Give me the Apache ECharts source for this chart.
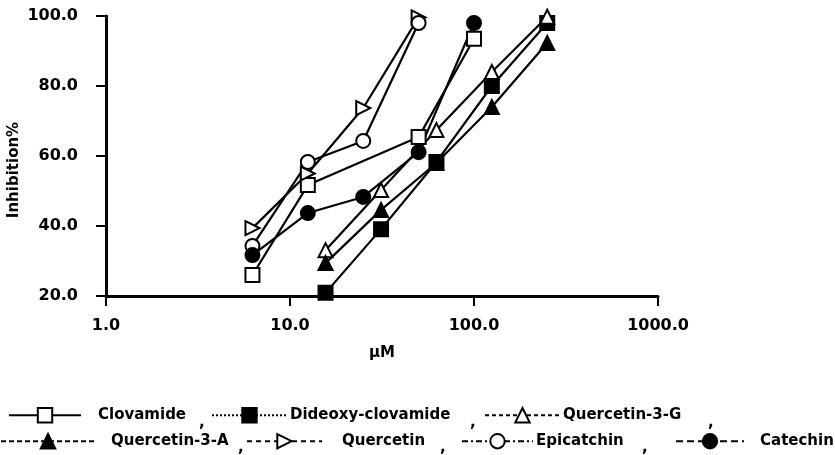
<!DOCTYPE html>
<html>
<head>
<meta charset="utf-8">
<script src="https://cdn.jsdelivr.net/npm/echarts@6/dist/echarts.min.js"></script>
<style>
  html, body { margin: 0; padding: 0; background: #fff; }
  #chart { width: 835px; height: 455px; }
</style>
</head>
<body>
<div id="chart"></div>
<script>
// Concentrations (µM) used in the two dilution series
const concLow = [6.25, 12.5, 25, 50, 100];
const concHigh = [15.6, 31.25, 62.5, 125, 250];
const concClovamide = [6.25, 12.5, 50, 100];
const concShort = [6.25, 12.5, 25, 50];

// Inhibition (%) per compound
const clovamide = [26.0, 51.7, 65.4, 93.5];
const dideoxyClovamide = [20.9, 39.1, 58.3, 80.0, 98.0];
const quercetin3G = [33.1, 50.3, 67.4, 84.0, 99.8];
const quercetin3A = [29.4, 44.6, 58.0, 74.0, 92.3];
const quercetin = [39.4, 55.0, 73.7, 99.6];
const epicatchin = [34.3, 58.3, 64.3, 98.0];
const catechin = [31.7, 43.7, 48.3, 61.1, 98.0];

const xTicks = [1, 10, 100, 1000];
const yTicks = [20, 40, 60, 80, 100];

const FONT = 'DejaVu Sans';
const pair = (xs, ys) => xs.map((x, i) => [x, ys[i]]);

function lineSeries(name, xs, ys, symbol, filled, extra) {
  return Object.assign({
    name: name,
    type: 'line',
    data: pair(xs, ys),
    symbol: symbol,
    symbolSize: 14,
    showAllSymbol: true,
    lineStyle: { color: '#000', width: 2.2 },
    itemStyle: { color: filled ? '#000' : '#fff', borderColor: '#000', borderWidth: 2 },
    emphasis: { disabled: true },
    animation: false
  }, extra || {});
}

const series = [
  lineSeries('Clovamide', concClovamide, clovamide, 'rect', false),
  lineSeries('Dideoxy-clovamide', concHigh, dideoxyClovamide, 'rect', true),
  lineSeries('Quercetin-3-G', concHigh, quercetin3G, 'triangle', false),
  lineSeries('Quercetin-3-A', concHigh, quercetin3A, 'triangle', true),
  lineSeries('Quercetin', concShort, quercetin, 'triangle', false, { symbolRotate: -90 }),
  lineSeries('Epicatchin', concShort, epicatchin, 'circle', false),
  lineSeries('Catechin', concLow, catechin, 'circle', true)
];

// One legend block per entry, laid out in two rows
const legendSpec = [
  { name: 'Clovamide', left: 3, top: 402, w: 72, gap: 17, dash: 'solid' },
  { name: 'Dideoxy-clovamide', left: 206, top: 402, w: 75, gap: 3, dash: 'dotted' },
  { name: 'Quercetin-3-G', left: 479, top: 402, w: 75, gap: 3, dash: [4, 3] },
  { name: 'Quercetin-3-A', left: -5, top: 428, w: 94, gap: 16, dash: [5, 3] },
  { name: 'Quercetin', left: 241, top: 428, w: 75, gap: 20, dash: [5, 4] },
  { name: 'Epicatchin', left: 456, top: 428, w: 71, gap: 3, dash: [6, 3, 2, 3] },
  { name: 'Catechin', left: 670, top: 428, w: 68, gap: 16, dash: [7, 4] }
];

const legends = legendSpec.map(s => ({
  left: s.left,
  top: s.top,
  orient: 'horizontal',
  itemWidth: s.w,
  itemHeight: 18,
  selectedMode: false,
  data: [{ name: s.name, lineStyle: { type: s.dash, width: 2, color: '#000' } }],
  textStyle: { fontFamily: FONT, fontWeight: 'bold', fontSize: 15, color: '#000', padding: [0, 0, 0, s.gap - 5] }
}));

const commas = [[199, 416], [470, 416], [708, 416], [238, 441], [440, 441], [642, 441]];

const chart = echarts.init(document.getElementById('chart'), null, { renderer: 'canvas' });
chart.setOption({
  backgroundColor: '#fff',
  animation: false,
  grid: { left: 106, right: 177, top: 16, bottom: 159, containLabel: false, outerBoundsMode: 'none' },
  legend: legends,
  xAxis: {
    type: 'log',
    logBase: 10,
    min: xTicks[0],
    max: xTicks[xTicks.length - 1],
    name: 'µM',
    nameLocation: 'middle',
    nameGap: 50,
    nameMoveOverlap: false,
    nameTextStyle: { fontFamily: FONT, fontWeight: 'bold', fontSize: 15, color: '#000' },
    axisLine: { lineStyle: { color: '#000', width: 3 } },
    axisTick: { length: 10, lineStyle: { color: '#000', width: 2 } },
    minorTick: { show: false },
    splitLine: { show: false },
    axisLabel: {
      fontFamily: FONT, fontWeight: 'bold', fontSize: 16, color: '#000', margin: 22,
      formatter: v => Number(v).toFixed(1)
    }
  },
  yAxis: {
    type: 'value',
    min: yTicks[0],
    max: yTicks[yTicks.length - 1],
    interval: 20,
    name: 'Inhibition%',
    nameLocation: 'middle',
    nameGap: 84,
    nameRotate: 90,
    nameMoveOverlap: false,
    nameTextStyle: { fontFamily: FONT, fontWeight: 'bold', fontSize: 15, color: '#000', padding: [0, 28, 0, 0] },
    axisLine: { show: true, lineStyle: { color: '#000', width: 3 } },
    axisTick: { show: true, length: 10, lineStyle: { color: '#000', width: 2 } },
    splitLine: { show: false },
    axisLabel: {
      fontFamily: FONT, fontWeight: 'bold', fontSize: 16, color: '#000', margin: 28,
      formatter: v => Number(v).toFixed(1)
    }
  },
  graphic: commas.map(c => ({
    type: 'text', left: c[0], top: c[1],
    style: { text: ',', font: 'bold 15px "DejaVu Sans"', fill: '#000' }
  })),
  series: series
});
</script>
</body>
</html>
